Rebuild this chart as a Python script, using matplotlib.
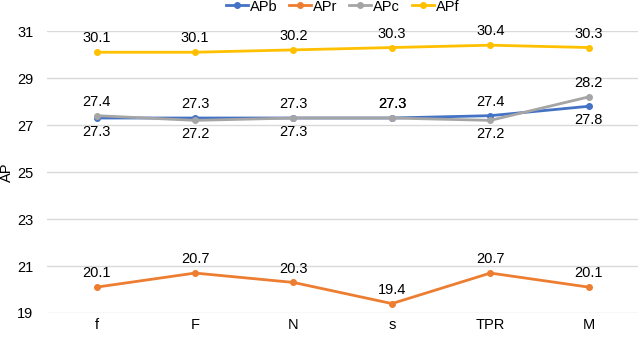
import matplotlib
matplotlib.use('Agg')
import matplotlib.pyplot as plt

plt.rcParams['font.family'] = ['Liberation Sans', 'DejaVu Sans']

categories = ['f', 'F', 'N', 's', 'TPR', 'M']
ap_b = [27.3, 27.3, 27.3, 27.3, 27.4, 27.8]
ap_r = [20.1, 20.7, 20.3, 19.4, 20.7, 20.1]
ap_c = [27.4, 27.2, 27.3, 27.3, 27.2, 28.2]
ap_f = [30.1, 30.1, 30.2, 30.3, 30.4, 30.3]

# label side per point: +1 above, -1 below
side_b = [-1, 1, -1, 1, 1, -1]
side_r = [1, 1, 1, 1, 1, 1]
side_c = [1, -1, 1, 1, -1, 1]
side_f = [1, 1, 1, 1, 1, 1]

series = [
    ('APb', ap_b, side_b, '#4472C4'),
    ('APr', ap_r, side_r, '#ED7D31'),
    ('APc', ap_c, side_c, '#A5A5A5'),
    ('APf', ap_f, side_f, '#FFC000'),
]

fig = plt.figure(figsize=(6.4, 3.38), dpi=100)
ax = fig.add_axes([0.074, 0.074, 0.923, 0.834])

x = list(range(len(categories)))
for name, vals, sides, col in series:
    ax.plot(x, vals, color=col, lw=2, marker='o', ms=4, label=name, zorder=3)

for name, vals, sides, col in series:
    for xi, v, s in zip(x, vals, sides):
        ax.annotate(f'{v:.1f}', (xi, v), xytext=(0, 10 * s), textcoords='offset points',
                    ha='center', va='center', fontsize=10.5, color='#000000')

ax.set_xlim(-0.5, 5.5)
ax.set_ylim(19, 31)
ax.set_yticks([19, 21, 23, 25, 27, 29, 31])
ax.set_xticks(x)
ax.set_xticklabels(categories)
ax.tick_params(length=0, labelsize=10.5, colors='#000000')
ax.tick_params(axis='y', pad=10)
ax.grid(axis='y', color='#D9D9D9', lw=1)
ax.set_axisbelow(True)
for sp in ax.spines.values():
    sp.set_visible(False)
ax.set_ylabel('AP', fontsize=10.5)
ax.yaxis.set_label_coords(-0.056, 0.5)

ax.legend(loc='center', bbox_to_anchor=(0.5, 1.087), ncol=4, frameon=False,
          fontsize=10.5, handlelength=1.5, handletextpad=0.15, columnspacing=0.8,
          borderaxespad=0, borderpad=0)

fig.savefig('out.png', dpi=100)
